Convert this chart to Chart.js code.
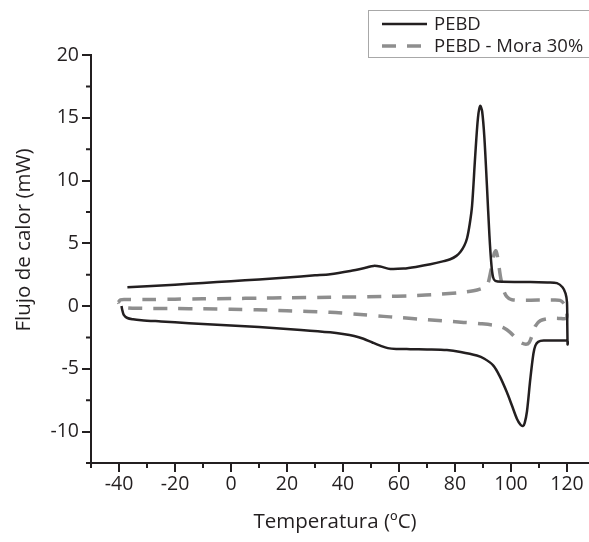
<!DOCTYPE html>
<html>
<head>
<meta charset="utf-8">
<script src="https://cdn.jsdelivr.net/npm/chart.js@4"></script>
<style>
html,body{margin:0;padding:0;background:#fff;}
#wrap{width:589px;height:542px;position:relative;}
</style>
</head>
<body>
<div id="wrap"><canvas id="c" width="589" height="542"></canvas></div>
<script>
// ---- data ----
const pebdT = [-37,-30,-20,-10,0,10,20,30,35.4,42.6,48,50.9,53.3,56.9,61.6,66,71.2,76,78.3,80.5,81.9,83.3,84.3,85.3,86.1,87.2,88.2,89.0,89.7,90.5,91.4,92.3,93.0,93.6,94.4,97,106.9,113,116.4,118.4,119.5,120,120.1,120.2,120.2,118.8,111.7,109.7,108.7,108.0,106.9,105.7,104.9,104.3,103.4,102.1,100.3,98.5,96,93.7,90.5,87.8,82,77.1,70,64,59,56,53.3,50.5,47.3,44,40,35.4,25,15,5,-5,-15,-25,-32,-35,-37,-38.3,-38.9,-39.1];
const pebdQ = [1.5,1.58,1.7,1.84,1.98,2.12,2.28,2.45,2.54,2.8,3.05,3.2,3.15,2.96,2.99,3.12,3.33,3.58,3.73,4.0,4.3,4.8,5.4,6.6,8.0,11.9,15.0,15.95,15.5,13.4,9.6,5.6,3.3,2.3,2.0,1.93,1.92,1.88,1.83,1.5,1.0,0.3,-1.5,-3.05,-2.78,-2.75,-2.75,-2.85,-3.15,-3.8,-5.8,-8.4,-9.3,-9.55,-9.45,-8.97,-7.9,-6.85,-5.6,-4.74,-4.2,-3.94,-3.65,-3.5,-3.45,-3.43,-3.42,-3.35,-3.15,-2.9,-2.6,-2.38,-2.22,-2.09,-1.9,-1.75,-1.6,-1.48,-1.36,-1.22,-1.12,-1.05,-0.95,-0.7,-0.25,0.0];

const moraT = [-40.2,-39.5,-37,-30,-20,-10,0,10,20,35.4,54.5,64,75,83,86.6,89.5,91.4,92.8,94.0,94.6,95.3,96.2,97.3,98.5,100.3,110,114,117.5,119.2,119.9,119.7,117,114,110.5,108.7,107.5,106.5,105.3,103.3,101.5,99.7,97.5,95,89,83.1,70,59.2,54.5,45,35.4,20,9.2,0,-10,-20,-32.5,-38,-39.6,-40.2];
const moraQ = [0.3,0.5,0.52,0.52,0.55,0.58,0.6,0.63,0.66,0.7,0.77,0.82,0.95,1.1,1.22,1.4,1.6,2.8,4.2,4.4,3.8,2.4,1.3,0.75,0.5,0.48,0.48,0.45,0.1,-0.5,-0.98,-0.98,-0.98,-1.16,-1.6,-2.35,-2.9,-3.05,-2.88,-2.5,-2.09,-1.75,-1.56,-1.4,-1.3,-1.08,-0.9,-0.82,-0.65,-0.5,-0.38,-0.29,-0.25,-0.22,-0.19,-0.18,-0.12,0.05,0.3];

const seriesNames = ['PEBD','PEBD - Mora 30%'];
const xTicks = [-40,-20,0,20,40,60,80,100,120];
const yTicks = [-10,-5,0,5,10,15,20];
const xMinor = [-50,-30,-10,10,30,50,70,90,110];
const yMinor = [-12.5,-7.5,-2.5,2.5,7.5,12.5,17.5];
const xTitle = 'Temperatura (ºC)';
const yTitle = 'Flujo de calor (mW)';

// ---- styling ----
const INK = '#231f20';
const GREY = '#8e8e8e';
const FONT = '"Open Sans", sans-serif';

const toPts = (xs, ys) => xs.map((x, i) => ({x: x, y: ys[i]}));

const decor = {
  id: 'decor',
  afterDraw(chart) {
    const ctx = chart.ctx;
    const xs = chart.scales.x, ys = chart.scales.y;
    const a = chart.chartArea;
    ctx.save();
    // minor ticks
    ctx.strokeStyle = INK; ctx.lineWidth = 2;
    ctx.beginPath();
    xMinor.forEach(v => { const p = xs.getPixelForValue(v); ctx.moveTo(p, a.bottom); ctx.lineTo(p, a.bottom + 5); });
    yMinor.forEach(v => { const p = ys.getPixelForValue(v); ctx.moveTo(a.left, p); ctx.lineTo(a.left - 5, p); });
    ctx.stroke();
    // axis titles
    ctx.fillStyle = INK;
    ctx.font = '20.5px ' + FONT;
    ctx.textAlign = 'center'; ctx.textBaseline = 'middle';
    ctx.fillText(xTitle, 335, 522);
    ctx.translate(24, 240); ctx.rotate(-Math.PI / 2);
    ctx.fillText(yTitle, 0, 0);
    ctx.setTransform(1, 0, 0, 1, 0, 0);
    // legend
    ctx.strokeStyle = '#a8a8a8'; ctx.lineWidth = 1;
    ctx.strokeRect(368.5, 10.5, 240, 47);
    const ds = chart.data.datasets;
    const rows = [24, 46];
    ds.forEach((d, i) => {
      ctx.strokeStyle = d.borderColor; ctx.lineWidth = d.borderWidth;
      ctx.setLineDash(d.borderDash || []);
      ctx.beginPath(); ctx.moveTo(382, rows[i]); ctx.lineTo(427, rows[i]); ctx.stroke();
      ctx.setLineDash([]);
      ctx.fillStyle = INK; ctx.font = '18.5px ' + FONT;
      ctx.textAlign = 'left'; ctx.textBaseline = 'middle';
      ctx.fillText(d.label, 434, rows[i] + 1);
    });
    ctx.restore();
  }
};

new Chart(document.getElementById('c'), {
  type: 'scatter',
  data: {
    datasets: [
      { label: seriesNames[0], data: toPts(pebdT, pebdQ), showLine: true, borderColor: INK, borderWidth: 2.5, pointRadius: 0, tension: 0.3, fill: false },
      { label: seriesNames[1], data: toPts(moraT, moraQ), showLine: true, borderColor: GREY, borderWidth: 3.5, borderDash: [14, 11], pointRadius: 0, tension: 0.3, fill: false }
    ]
  },
  options: {
    responsive: false,
    animation: false,
    devicePixelRatio: 1,
    layout: { padding: { top: 55, right: 1, left: 0, bottom: 0 } },
    plugins: { legend: { display: false }, tooltip: { enabled: false } },
    scales: {
      x: {
        type: 'linear', min: -50, max: 127.5,
        afterBuildTicks: s => { s.ticks = xTicks.map(v => ({value: v})); },
        afterFit: s => { s.height = 79; },
        border: { display: true, color: INK, width: 2 },
        grid: { display: true, drawOnChartArea: false, drawTicks: true, tickLength: 9, color: INK, lineWidth: 2 },
        ticks: { color: INK, font: { family: FONT, size: 19.5 }, padding: 1, maxRotation: 0, autoSkip: false },
        title: { display: false }
      },
      y: {
        type: 'linear', min: -12.5, max: 20,
        afterBuildTicks: s => { s.ticks = yTicks.map(v => ({value: v})); },
        afterFit: s => { s.width = 91; },
        border: { display: true, color: INK, width: 2 },
        grid: { display: true, drawOnChartArea: false, drawTicks: true, tickLength: 9, color: INK, lineWidth: 2 },
        ticks: { color: INK, font: { family: FONT, size: 19.5 }, padding: 3, autoSkip: false },
        title: { display: false }
      }
    }
  },
  plugins: [decor]
});
</script>
</body>
</html>
